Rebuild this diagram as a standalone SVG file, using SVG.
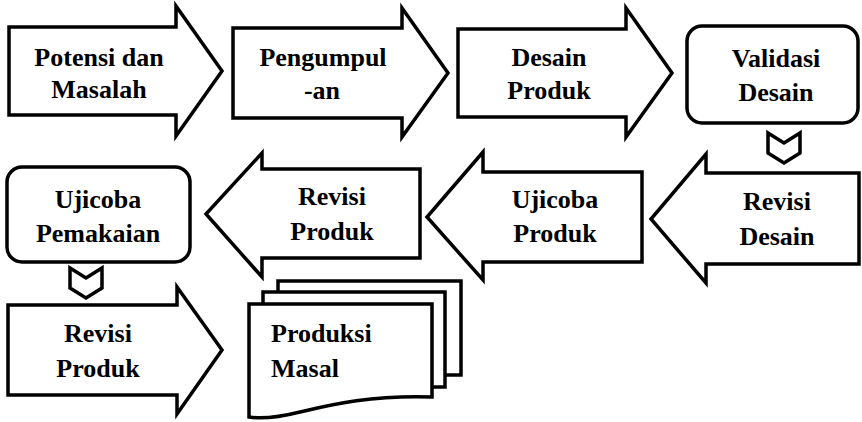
<svg xmlns="http://www.w3.org/2000/svg" width="862" height="422" viewBox="0 0 862 422">
<style>
.s{fill:#fff;stroke:#000;stroke-width:3.5;stroke-linejoin:miter;stroke-miterlimit:10}
text{font-family:'Liberation Serif','Times New Roman',serif;font-weight:bold;font-size:26px;fill:#000;text-anchor:middle}
.l{text-anchor:start}
</style>
<rect width="862" height="422" fill="#fff"/>
<g id="n1">
<path class="s" d="M9,27 H176 V6 L222,71 L176,136 V115 H9 Z"/>
<text x="99" y="66">Potensi dan</text>
<text x="99" y="98">Masalah</text>
</g>
<g id="n2">
<path class="s" d="M233,28 H402 V8 L448,73 L402,137 V118 H233 Z"/>
<text x="323" y="66">Pengumpul</text>
<text x="322" y="99">-an</text>
</g>
<g id="n3">
<path class="s" d="M458,29 H626 V8 L672,73 L626,137 V117 H458 Z"/>
<text x="549" y="66">Desain</text>
<text x="549" y="99">Produk</text>
</g>
<g id="n4">
<rect class="s" x="687" y="26" width="171" height="97" rx="15"/>
<text x="776" y="67">Validasi</text>
<text x="776" y="101">Desain</text>
</g>
<g id="n5">
<path class="s" d="M859,173 H706 V154 L651,219 L706,283 V264 H859 Z"/>
<text x="777" y="210">Revisi</text>
<text x="777" y="245">Desain</text>
</g>
<g id="n6">
<path class="s" d="M642,172 H483 V152 L427,217 L483,280 V262 H642 Z"/>
<text x="555" y="208">Ujicoba</text>
<text x="555" y="242">Produk</text>
</g>
<g id="n7">
<path class="s" d="M420,169 H262 V153 L206,214 L262,277 V258 H420 Z"/>
<text x="332" y="205">Revisi</text>
<text x="332" y="240">Produk</text>
</g>
<g id="n8">
<rect class="s" x="7" y="167" width="183" height="95" rx="15"/>
<text x="98" y="208">Ujicoba</text>
<text x="98" y="242">Pemakaian</text>
</g>
<g id="n9">
<path class="s" d="M8,305 H177 V287 L222,350 L177,414 V395 H8 Z"/>
<text x="98" y="342">Revisi</text>
<text x="98" y="377">Produk</text>
</g>
<g id="n10">
<rect class="s" x="278" y="281" width="183" height="94"/>
<rect class="s" x="263" y="292" width="182" height="95"/>
<path class="s" d="M249,304 H432 V397 C370,395 330,405 300,412 C280,417 262,419 249,417 Z"/>
<text class="l" x="271" y="342">Produksi</text>
<text class="l" x="271" y="377">Masal</text>
</g>
<g id="connectors">
<path class="s" d="M768,133 L784,143 L800,133 V153 L784,163 L768,153 Z"/>
<path class="s" d="M70,268 L86,278 L102,268 V288 L86,298 L70,288 Z"/>
</g>
</svg>
